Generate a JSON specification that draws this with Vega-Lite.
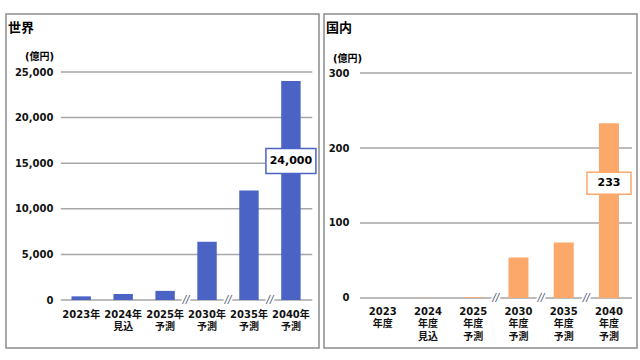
{
  "$schema": "https://vega.github.io/schema/vega-lite/v6.json",
  "background": "white",
  "padding": {"left": 5, "top": 13, "right": 0, "bottom": 0},
  "spacing": 3,
  "config": {
    "view": {"stroke": "#8c8c8c", "strokeWidth": 1.5},
    "font": "DejaVu Sans, Noto Sans CJK JP"
  },
  "hconcat": [
    {
      "width": 313,
      "height": 334,
      "title": {"text": "世界", "anchor": "start", "frame": "group", "offset": -31, "dx": 2, "fontSize": 13, "fontWeight": "bold", "font": "DejaVu Sans, Noto Sans CJK JP", "color": "#000", "baseline": "alphabetic"},
      "encoding": {
        "x": {
          "field": "cat", "type": "nominal",
          "scale": {"domain": ["2023年", "2024年\n見込", "2025年\n予測", "2030年\n予測", "2035年\n予測", "2040年\n予測"], "paddingInner": 0.537, "paddingOuter": 1.0854, "align": 0.781, "round": false},
          "axis": {"title": null, "orient": "bottom", "offset": -48, "domain": false, "ticks": false, "tickSize": 0, "labelPadding": 9, "labelAngle": 0, "labelOverlap": false, "labelExpr": "split(datum.label, '\\n')", "labelFont": "DejaVu Sans, Noto Sans CJK JP", "labelFontSize": 10, "labelFontWeight": "bold", "labelLineHeight": 12, "labelColor": "#111", "labelBaseline": "top"}
        },
        "y": {
          "field": "v", "type": "quantitative",
          "scale": {"domain": [-5263, 31360], "nice": false, "zero": false},
          "axis": {"title": "(億円)", "titleAngle": 0, "titleX": -17, "titleY": 42, "titleAlign": "center", "titleBaseline": "middle", "titleFontSize": 10, "titleFontWeight": "bold", "titleFont": "DejaVu Sans, Noto Sans CJK JP", "titleColor": "#000", "offset": -50, "values": [0, 5000, 10000, 15000, 20000, 25000], "format": ",d", "grid": false, "domain": false, "ticks": false, "tickSize": 0, "labelPadding": 3, "labelFont": "DejaVu Sans, Noto Sans CJK JP", "labelFontSize": 10, "labelFontWeight": "bold", "labelColor": "#111"}
        }
      },
      "layer": [
        {
          "data": {"values": [{"v": 0}, {"v": 5000}, {"v": 10000}, {"v": 15000}, {"v": 20000}, {"v": 25000}]},
          "mark": {"type": "rule", "color": "#a6a6a6", "strokeWidth": 1.5},
          "encoding": {
            "x": {"datum": "2023年", "type": "nominal", "bandPosition": -0.55},
            "x2": {"datum": "2040年\n予測", "bandPosition": 1.6}
          }
        },
        {
          "data": {"values": [
            {"cat": "2023年", "v": 400},
            {"cat": "2024年\n見込", "v": 650},
            {"cat": "2025年\n予測", "v": 1000},
            {"cat": "2030年\n予測", "v": 6400},
            {"cat": "2035年\n予測", "v": 12000},
            {"cat": "2040年\n予測", "v": 24000}
          ]},
          "mark": {"type": "bar", "color": "#4C63C6"},
          "encoding": {"y2": {"datum": 0}}
        },
        {
          "data": {"values": [{"cat": "2030年\n予測", "v": 0}, {"cat": "2035年\n予測", "v": 0}, {"cat": "2040年\n予測", "v": 0}]},
          "mark": {"type": "text", "text": "//", "fontSize": 10, "fontStyle": "italic", "stroke": "white", "strokeWidth": 4, "fill": "white", "baseline": "middle"},
          "encoding": {"x": {"field": "cat", "type": "nominal", "bandPosition": -0.58}}
        },
        {
          "data": {"values": [{"cat": "2030年\n予測", "v": 0}, {"cat": "2035年\n予測", "v": 0}, {"cat": "2040年\n予測", "v": 0}]},
          "mark": {"type": "text", "text": "//", "fontSize": 10, "fontStyle": "italic", "color": "#4a5270", "baseline": "middle"},
          "encoding": {"x": {"field": "cat", "type": "nominal", "bandPosition": -0.58}}
        },
        {
          "data": {"values": [{"cat": "2040年\n予測", "v": 24000, "label": "24,000"}]},
          "mark": {"type": "point", "shape": "M-1,-0.5H1V0.5H-1Z", "size": 2500, "filled": true, "fill": "white", "stroke": "#4C63C6", "strokeWidth": 1.5, "opacity": 1, "yOffset": 80},
          "encoding": {}
        },
        {
          "data": {"values": [{"cat": "2040年\n予測", "v": 24000, "label": "24,000"}]},
          "mark": {"type": "text", "fontSize": 11, "fontWeight": "bold", "color": "#000", "baseline": "middle", "yOffset": 80},
          "encoding": {"text": {"field": "label"}}
        }
      ]
    },
    {
      "width": 313,
      "height": 334,
      "title": {"text": "国内", "anchor": "start", "frame": "group", "offset": -31, "dx": 2, "fontSize": 13, "fontWeight": "bold", "font": "DejaVu Sans, Noto Sans CJK JP", "color": "#000", "baseline": "alphabetic"},
      "encoding": {
        "x": {
          "field": "cat", "type": "nominal",
          "scale": {"domain": ["2023\n年度", "2024\n年度\n見込", "2025\n年度\n予測", "2030\n年度\n予測", "2035\n年度\n予測", "2040\n年度\n予測"], "paddingInner": 0.558, "paddingOuter": 0.7376, "align": 0.73, "round": false},
          "axis": {"title": null, "orient": "bottom", "offset": -50, "domain": false, "ticks": false, "tickSize": 0, "labelPadding": 8, "labelAngle": 0, "labelOverlap": false, "labelExpr": "split(datum.label, '\\n')", "labelFont": "DejaVu Sans, Noto Sans CJK JP", "labelFontSize": 10, "labelFontWeight": "bold", "labelLineHeight": 12.5, "labelColor": "#111", "labelBaseline": "top"}
        },
        "y": {
          "field": "v", "type": "quantitative",
          "scale": {"domain": [-66.67, 378.67], "nice": false, "zero": false},
          "axis": {"title": "(億円)", "titleAngle": 0, "titleX": -5, "titleY": 44, "titleAlign": "center", "titleBaseline": "middle", "titleFontSize": 10, "titleFontWeight": "bold", "titleFont": "DejaVu Sans, Noto Sans CJK JP", "titleColor": "#000", "offset": -28, "values": [0, 100, 200, 300], "format": "d", "grid": false, "domain": false, "ticks": false, "tickSize": 0, "labelPadding": 3, "labelFont": "DejaVu Sans, Noto Sans CJK JP", "labelFontSize": 10, "labelFontWeight": "bold", "labelColor": "#111"}
        }
      },
      "layer": [
        {
          "data": {"values": [{"v": 0}, {"v": 100}, {"v": 200}, {"v": 300}]},
          "mark": {"type": "rule", "color": "#a6a6a6", "strokeWidth": 1.5},
          "encoding": {
            "x": {"datum": "2023\n年度", "type": "nominal", "bandPosition": -0.64},
            "x2": {"datum": "2040\n年度\n予測", "bandPosition": 1.65}
          }
        },
        {
          "data": {"values": [
            {"cat": "2023\n年度", "v": 0.1},
            {"cat": "2024\n年度\n見込", "v": 0.2},
            {"cat": "2025\n年度\n予測", "v": 1},
            {"cat": "2030\n年度\n予測", "v": 54},
            {"cat": "2035\n年度\n予測", "v": 74},
            {"cat": "2040\n年度\n予測", "v": 233}
          ]},
          "mark": {"type": "bar", "color": "#FCA86B"},
          "encoding": {"y2": {"datum": 0}}
        },
        {
          "data": {"values": [{"cat": "2030\n年度\n予測", "v": 0}, {"cat": "2035\n年度\n予測", "v": 0}, {"cat": "2040\n年度\n予測", "v": 0}]},
          "mark": {"type": "text", "text": "//", "fontSize": 10, "fontStyle": "italic", "stroke": "white", "strokeWidth": 4, "fill": "white", "baseline": "middle"},
          "encoding": {"x": {"field": "cat", "type": "nominal", "bandPosition": -0.63}}
        },
        {
          "data": {"values": [{"cat": "2030\n年度\n予測", "v": 0}, {"cat": "2035\n年度\n予測", "v": 0}, {"cat": "2040\n年度\n予測", "v": 0}]},
          "mark": {"type": "text", "text": "//", "fontSize": 10, "fontStyle": "italic", "color": "#4a5270", "baseline": "middle"},
          "encoding": {"x": {"field": "cat", "type": "nominal", "bandPosition": -0.63}}
        },
        {
          "data": {"values": [{"cat": "2040\n年度\n予測", "v": 233, "label": "233"}]},
          "mark": {"type": "point", "shape": "M-1,-0.5H1V0.5H-1Z", "size": 1936, "filled": true, "fill": "white", "stroke": "#FCA86B", "strokeWidth": 1.5, "opacity": 1, "yOffset": 60},
          "encoding": {}
        },
        {
          "data": {"values": [{"cat": "2040\n年度\n予測", "v": 233, "label": "233"}]},
          "mark": {"type": "text", "fontSize": 11, "fontWeight": "bold", "color": "#000", "baseline": "middle", "yOffset": 60},
          "encoding": {"text": {"field": "label"}}
        }
      ]
    }
  ]
}
